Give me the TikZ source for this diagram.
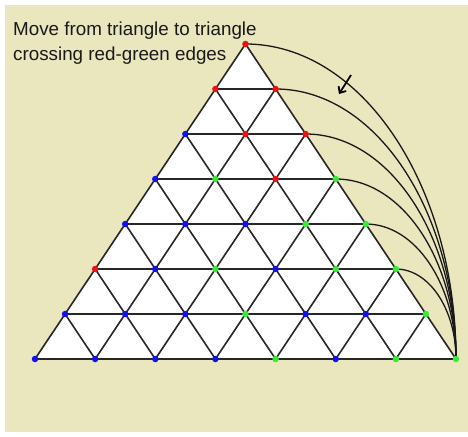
\documentclass[tikz,border=0pt]{standalone}
\usepackage{fontspec}
\setmainfont{Liberation Sans}
\usetikzlibrary{calc,arrows.meta}
\definecolor{bgbeige}{HTML}{EAE6BE}
\definecolor{rd}{HTML}{EE1111}
\definecolor{blu}{HTML}{1111EE}
\definecolor{grn}{HTML}{33EE33}
\tikzset{
  gridline/.style={draw=black!85, line width=1.6pt},
  arcline/.style={draw=black!90, line width=1.3pt},
  dot/.style={circle, inner sep=0pt, minimum size=6.5pt, fill=#1},
  label/.style={anchor=base west, inner sep=0pt, font=\fontsize{18.8}{24}\selectfont, text=black!90},
  arrowline/.style={draw=black, line width=1.8pt, -{Straight Barb[length=5pt,width=9pt]}}
}
\begin{document}
\begin{tikzpicture}[x=1pt,y=-1pt]
\useasboundingbox (0,0) rectangle (468,436);
\fill[white] (0,0) rectangle (468,436);
\fill[bgbeige] (5,5) rectangle (468,432);
% grid points
\foreach \k in {0,...,7}{
  \pgfmathtruncatemacro{\n}{7-\k}
  \foreach \i in {0,...,\n}{
    \coordinate (p-\k-\i) at ({35+60.14*\i+30.07*\k},{359-45*\k});
  }
}
\fill[white] (p-0-0) -- (p-0-7) -- (p-7-0) -- cycle;
% horizontal lines
\foreach \k in {0,...,6}{
  \pgfmathtruncatemacro{\n}{7-\k}
  \draw[gridline] (p-\k-0) -- (p-\k-\n);
}
% up-right lines
\foreach \i in {0,...,6}{
  \pgfmathtruncatemacro{\n}{7-\i}
  \draw[gridline] (p-0-\i) -- (p-\n-\i);
}
% up-left lines
\foreach \i in {1,...,7}{
  \draw[gridline] (p-0-\i) -- (p-\i-0);
}
% arcs to the corner
\foreach \k in {2,...,7}{
  \pgfmathtruncatemacro{\n}{7-\k}
  \draw[arcline] (p-\k-\n) .. controls ($(p-\k-\n)!0.552!(p-\k-\n -| p-0-7)$) and ($(p-0-7)!0.552!(p-0-7 |- p-\k-\n)$) .. (p-0-7);
}
% coloured vertices
\foreach \k/\cols in {0/{blu,blu,blu,blu,grn,blu,grn,grn},
                      1/{blu,blu,blu,grn,blu,blu,grn},
                      2/{rd,blu,grn,blu,grn,grn},
                      3/{blu,blu,blu,grn,grn},
                      4/{blu,grn,rd,grn},
                      5/{blu,rd,rd},
                      6/{rd,rd},
                      7/{rd}}{
  \foreach \c [count=\j from 0] in \cols {
    \node[dot=\c] (v-\k-\j) at (p-\k-\j) {};
  }
}
% arrow
\coordinate (a1) at (351,75);
\coordinate (a2) at (339,94);
\draw[arrowline] (a1) -- (a2);
% text
\node[label] (t1) at (13,36) {Move from triangle to triangle};
\node[label] (t2) at (13,60) {crossing red-green edges};
\end{tikzpicture}
\end{document}
